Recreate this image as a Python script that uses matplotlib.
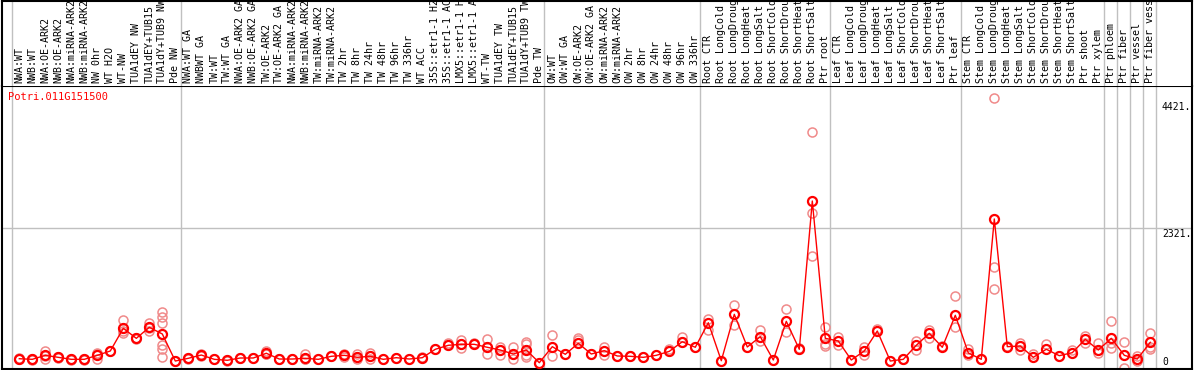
import matplotlib
matplotlib.use("Agg")
import matplotlib.pyplot as plt

labels = [
    "NWA:WT", "NWB:WT", "NWA:OE-ARK2", "NWB:OE-ARK2", "NWA:miRNA-ARK2", "NWB:miRNA-ARK2",
    "NW 0hr", "WT H2O", "WT-NW", "TUA1dEY NW", "TUA1dEY+TUB15", "TUA1dY+TUB9 NW", "Pde NW",
    "NWA:WT GA", "NWBWT GA", "TW:WT", "TW:WT GA", "NWA:OE-ARK2 GA", "NWB:OE-ARK2 GA",
    "TW:OE-ARK2", "TW:OE-ARK2 GA", "NWA:miRNA-ARK2", "NWB:miRNA-ARK2", "TW:miRNA-ARK2",
    "TW:miRNA-ARK2", "TW 2hr", "TW 8hr", "TW 24hr", "TW 48hr", "TW 96hr", "TW 336hr",
    "WT ACC", "35S::etr1-1 H2O", "35S::etr1-1 ACC", "LMX5::etr1-1 H2O", "LMX5::etr1-1 ACC",
    "WT-TW", "TUA1dEY TW", "TUA1dEY+TUB15", "TUA1dY+TUB9 TW", "Pde TW",
    "OW:WT", "OW:WT GA", "OW:OE-ARK2", "OW:OE-ARK2 GA", "OW:miRNA-ARK2", "OW:miRNA-ARK2",
    "OW 2hr", "OW 8hr", "OW 24hr", "OW 48hr", "OW 96hr", "OW 336hr",
    "Root CTR", "Root LongCold", "Root LongDrought", "Root LongHeat", "Root LongSalt",
    "Root ShortCold", "Root ShortDrought", "Root ShortHeat", "Root ShortSalt", "Ptr root",
    "Leaf CTR", "Leaf LongCold", "Leaf LongDrought", "Leaf LongHeat", "Leaf LongSalt",
    "Leaf ShortCold", "Leaf ShortDrought", "Leaf ShortHeat", "Leaf ShortSalt", "Ptr leaf",
    "Stem CTR", "Stem LongCold", "Stem LongDrought", "Stem LongHeat", "Stem LongSalt",
    "Stem ShortCold", "Stem ShortDrought", "Stem ShortHeat", "Stem ShortSalt", "Ptr shoot",
    "Ptr xylem", "Ptr phloem", "Ptr fiber", "Ptr vessel", "Ptr fiber vessel",
]

means = [
    160, 150, 216, 183, 150, 150, 216, 288, 663, 497, 679, 569, 122,
    167, 221, 150, 134, 172, 172, 250, 155, 155, 167, 150, 200, 216, 183, 200, 150,
    177, 155, 177, 316, 382, 398, 398, 349, 304, 238, 304, 94,
    359, 233, 415, 238, 293, 205, 200, 183, 216, 282, 441, 349,
    755, 127, 894, 354, 524, 139, 778, 316, 2767, 497,
    453, 139, 288, 618, 122, 150, 382, 580, 349, 878,
    255, 150, 2470, 359, 370, 183, 316, 210, 260, 481,
    304, 497, 216, 155, 431,
]

replicates = [
    [150, 170, 160], [140, 160, 150], [293, 150, 205], [175, 190, 183], [145, 155],
    [145, 155], [250, 161, 235], [280, 295], [795, 580, 614], [497, 480, 510],
    [745, 624, 668], [927, 844, 756, 387, 321, 183], [115, 130],
    [160, 175], [210, 232], [150], [128, 140], [165, 180], [170], [282, 238, 230],
    [150, 160], [150, 160], [238, 150, 160], [150], [200, 205], [238, 194, 216],
    [238, 150, 183], [249, 161, 200], [150], [177], [150], [177, 185], [316],
    [425, 382], [469, 332, 398], [425, 398], [486, 233, 349], [359, 222, 304],
    [348, 150, 238], [431, 398, 222, 194], [94],
    [547, 205], [233], [497, 469], [238], [348, 222], [205], [200, 210], [183],
    [216], [315, 282], [514, 441], [349],
    [811, 635], [127], [1048, 712], [354], [635, 453], [139], [982, 607],
    [316, 330], [3903, 2564, 1858], [690, 403, 376],
    [514, 387], [139], [359, 216], [651], [122], [150], [453, 299], [635, 497],
    [376], [1192, 690],
    [321, 216], [150], [4470, 1676, 1307], [376], [414, 304], [238], [398], [210],
    [304], [536, 414],
    [425, 249], [789, 414, 332], [436, 0], [205, 128], [580, 359, 326],
]

group_bounds = [0, 13, 41, 53, 63, 73, 84, 85, 86, 87, 88]
tick_values = [4421, 2321, 0]
tick_labels = ["4421.", "2321.", "0"]
gene = "Potri.011G151500"

W, H = 1194, 370
fig = plt.figure(figsize=(W / 100, H / 100), dpi=100)

def px2i(x):
    return (x - 19.3) / 13.0

def py2v(y):
    return (368.4 - y) * 16.53

x0, x1 = 2, 1192
y_top, y_sep, y_bot = 0, 86, 369
ax = fig.add_axes([x0 / W, 1 - y_bot / H, (x1 - x0) / W, (y_bot - y_sep) / H])
axl = fig.add_axes([x0 / W, 1 - y_sep / H, (x1 - x0) / W, (y_sep - 0.5) / H])

xlim = (px2i(x0), px2i(x1))
for a in (ax, axl):
    a.set_xlim(*xlim)
    a.set_xticks([])
    a.set_yticks([])
    for s in a.spines.values():
        s.set_color("black")
        s.set_linewidth(1.5)
ax.set_ylim(py2v(y_bot), py2v(y_sep))
axl.set_ylim(0, 1)
axl.spines["bottom"].set_visible(False)

grey = "#c0c0c0"
for b in group_bounds:
    for a in (ax, axl):
        a.axvline(b - 0.6, color=grey, lw=1, zorder=0)
ax.axhline(tick_values[1], color=grey, lw=1, zorder=0)

mono = "DejaVu Sans Mono"
for i, lab in enumerate(labels):
    axl.text(i, 0.035, lab, rotation=90, ha="center", va="bottom",
             fontsize=7.2, family=mono, clip_on=True)

n = len(means)
xs = list(range(n))
rx, ry = [], []
for i, reps in enumerate(replicates):
    for v in reps:
        rx.append(i)
        ry.append(v)
ax.plot(rx, ry, ls="none", marker="o", ms=6.5, mfc="none", mec="#f08a8a",
        mew=1.1, zorder=2, clip_on=True)
ax.plot(xs, means, color="#ff0000", lw=1, zorder=3)
ax.plot(xs, means, ls="none", marker="o", ms=6.5, mfc="none", mec="#ff0000",
        mew=1.6, zorder=4)

xt = px2i(1162)
for v, t in zip(tick_values, tick_labels):
    if v == 0:
        ax.annotate(t, (xt, v), xytext=(0, 1), textcoords="offset points",
                    ha="left", va="bottom", fontsize=7, family=mono)
    else:
        ax.annotate(t, (xt, v), xytext=(0, -1), textcoords="offset points",
                    ha="left", va="top", fontsize=7, family=mono)

ax.text(6 / (x1 - x0), 1 - 11 / (y_bot - y_sep), gene, transform=ax.transAxes,
        ha="left", va="center", color="#ff0000", fontsize=7.5, family=mono)

fig.savefig("out.png", dpi=100)
